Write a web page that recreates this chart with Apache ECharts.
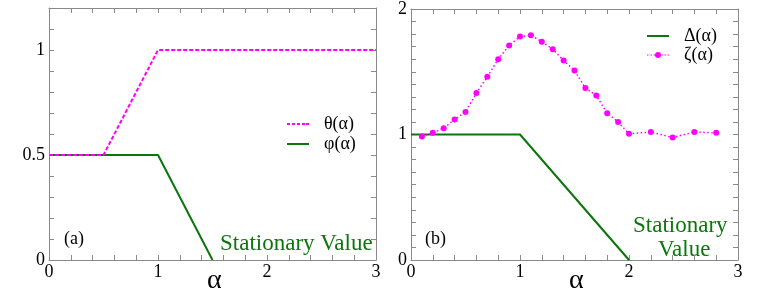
<!DOCTYPE html>
<html><head><meta charset="utf-8">
<script src="https://cdn.jsdelivr.net/npm/echarts@6/dist/echarts.min.js"></script>
<style>html,body{margin:0;padding:0;background:#fff}#c{width:763px;height:305px}</style>
</head><body><div id="c"></div>
<script>
// Panel (a)
const thetaX = [0, 0.5, 1, 3];
const thetaY = [0.5, 0.5, 1, 1];
const phiX = [0, 1, 1.5];
const phiY = [0.5, 0.5, 0];
// Panel (b)
const deltaX = [0, 1, 2];
const deltaY = [1, 1, 0];
const zetaX = [0.1,0.2,0.3,0.4,0.5,0.6,0.7,0.8,0.9,1.0,1.1,1.2,1.3,1.4,1.5,1.6,1.7,1.8,1.9,2.0,2.2,2.4,2.6,2.8];
const zetaY = [0.984,1.013,1.05,1.12,1.18,1.33,1.46,1.60,1.71,1.78,1.79,1.74,1.68,1.59,1.51,1.37,1.31,1.17,1.10,1.005,1.02,0.976,1.02,1.013];
const xTickLabels = ['0','1','2','3'];
const yTickLabelsA = ['0','0.5','1'];
const yTickLabelsB = ['0','1','2'];

const MAG = '#ff00ff', GRN = '#0b760b', FRAME = '#8a8a8a';
const FONT = 'Liberation Serif';
const pairs = (xs, ys) => xs.map((x, i) => [x, ys[i]]);
const near = (v, list) => list.find(s => Math.abs(v - parseFloat(s)) < 1e-6);

const ICON_SOLID = 'path://M0,0h22v2h-22z';
const ICON_DASH = 'path://M0,0h3v2h-3zM5,0h3v2h-3zM10,0h3v2h-3zM15,0h3v2h-3zM19,0h3v2h-3z';
const ICON_DOT = 'path://M0,2.5h1.5v1h-1.5zM3.5,2.5h1.5v1h-1.5zM6.5,2.5h1.5v1h-1.5zM8,3A3,3 0 1 0 14,3A3,3 0 1 0 8,3ZM14.5,2.5h1.5v1h-1.5zM17.5,2.5h1.5v1h-1.5zM20.5,2.5h1.5v1h-1.5z';

function xAx(grid, pos) {
  return {
    type: 'value', gridIndex: grid, position: pos, min: 0, max: 3, interval: 0.2,
    axisLine: { show: true, onZero: false, lineStyle: { color: FRAME, width: 1 } },
    axisTick: { show: true, inside: true, length: 5, lineStyle: { color: FRAME } },
    splitLine: { show: false },
    axisLabel: pos === 'bottom' ? {
      show: true, margin: 3, color: '#000', fontFamily: FONT, fontSize: 18,
      formatter: v => near(v, xTickLabels) || ''
    } : { show: false }
  };
}
function yAx(grid, pos, max, labels) {
  return {
    type: 'value', gridIndex: grid, position: pos, min: 0, max: max, interval: 0.1,
    axisLine: { show: true, onZero: false, lineStyle: { color: FRAME, width: 1 } },
    axisTick: { show: true, inside: true, length: 5, lineStyle: { color: FRAME } },
    splitLine: { show: false },
    axisLabel: pos === 'left' ? {
      show: true, margin: 4, color: '#000', fontFamily: FONT, fontSize: 18,
      formatter: v => near(v, labels) || ''
    } : { show: false }
  };
}
const legendText = { fontFamily: FONT, fontSize: 18, lineHeight: 17, color: '#000', padding: [0, 0, 0, 10] };

const chart = echarts.init(document.getElementById('c'), null, { renderer: 'canvas' });
chart.setOption({
  animation: false,
  backgroundColor: '#fff',
  grid: [
    { left: 49, right: 387, top: 8, bottom: 45 },
    { left: 411, right: 25, top: 8, bottom: 45 }
  ],
  xAxis: [xAx(0, 'bottom'), xAx(0, 'top'), xAx(1, 'bottom'), xAx(1, 'top')],
  yAxis: [yAx(0, 'left', 1.2, yTickLabelsA), yAx(0, 'right', 1.2, yTickLabelsA),
          yAx(1, 'left', 2, yTickLabelsB), yAx(1, 'right', 2, yTickLabelsB)],
  legend: [
    { data: [{ name: 'θ(α)', icon: ICON_DASH }, { name: 'φ(α)', icon: ICON_SOLID }],
      orient: 'vertical', left: 287, top: 115, itemWidth: 22, itemHeight: 6, itemGap: 2, padding: 0,
      textStyle: legendText },
    { data: [{ name: 'Δ(α)', icon: ICON_SOLID }, { name: 'ζ(α)', icon: ICON_DOT }],
      orient: 'vertical', left: 647, top: 27, itemWidth: 22, itemHeight: 6, itemGap: 1, padding: 0,
      textStyle: legendText }
  ],
  series: [
    { name: 'θ(α)', type: 'line', xAxisIndex: 0, yAxisIndex: 0, data: pairs(thetaX, thetaY), symbol: 'none',
      itemStyle: { color: MAG }, lineStyle: { color: MAG, width: 2, type: [4, 2] }, z: 3 },
    { name: 'φ(α)', type: 'line', xAxisIndex: 0, yAxisIndex: 0, data: pairs(phiX, phiY), symbol: 'none',
      itemStyle: { color: GRN }, lineStyle: { color: GRN, width: 2 }, z: 2 },
    { name: 'Δ(α)', type: 'line', xAxisIndex: 2, yAxisIndex: 2, data: pairs(deltaX, deltaY), symbol: 'none',
      itemStyle: { color: GRN }, lineStyle: { color: GRN, width: 2 } },
    { name: 'ζ(α)', type: 'line', xAxisIndex: 2, yAxisIndex: 2, data: pairs(zetaX, zetaY), symbol: 'circle', symbolSize: 6,
      itemStyle: { color: MAG }, lineStyle: { color: MAG, width: 1.5, type: [1.5, 2.5] } }
  ],
  graphic: [
    { type: 'text', left: 64, top: 230, style: { text: '(a)', fontFamily: FONT, fontSize: 18, fill: '#000' } },
    { type: 'text', left: 425, top: 230, style: { text: '(b)', fontFamily: FONT, fontSize: 18, fill: '#000' } },
    { type: 'text', left: 220, top: 232, style: { text: 'Stationary Value', fontFamily: FONT, fontSize: 23, fill: GRN } },
    { type: 'text', left: 633, top: 214, style: { text: 'Stationary', fontFamily: FONT, fontSize: 23, fill: GRN } },
    { type: 'text', left: 658, top: 238, style: { text: 'Value', fontFamily: FONT, fontSize: 23, fill: GRN } },
    { type: 'text', left: 207, top: 267, style: { text: 'α', fontFamily: FONT, fontSize: 28, fill: '#000' } },
    { type: 'text', left: 569, top: 267, style: { text: 'α', fontFamily: FONT, fontSize: 28, fill: '#000' } }
  ]
});
</script></body></html>
